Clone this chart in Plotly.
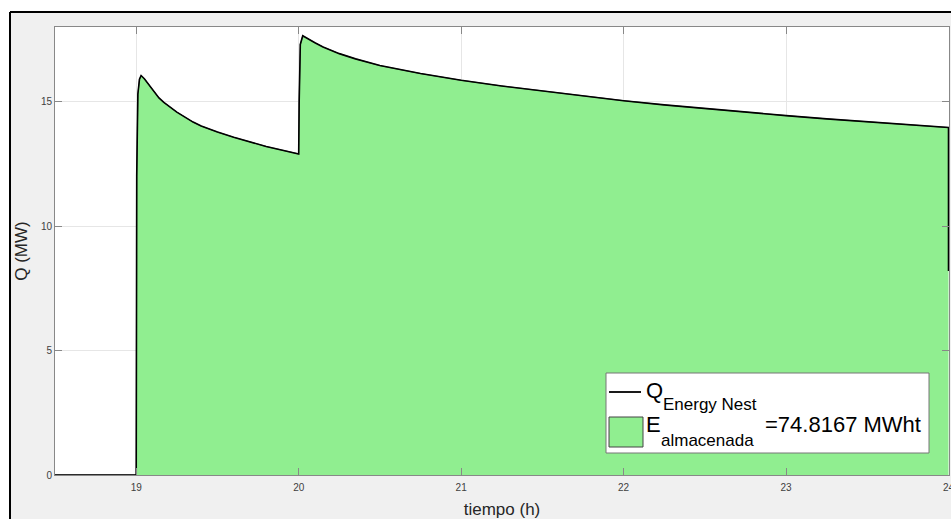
import plotly.graph_objects as go

# time (h)
t = [18.5, 19.0, 19.003, 19.01, 19.02, 19.03, 19.05, 19.075, 19.1, 19.14, 19.17, 19.2,
     19.25, 19.3, 19.35, 19.4, 19.45, 19.5, 19.6, 19.7, 19.8, 19.9, 19.995,
     20.0, 20.003, 20.01, 20.025, 20.05, 20.1, 20.15, 20.2, 20.25, 20.35, 20.5,
     20.75, 21.0, 21.25, 21.5, 21.75, 22.0, 22.25, 22.5, 22.75, 23.0, 23.25, 23.5,
     23.75, 24.0, 24.0]
# Q (MW)
q = [0, 0, 12.0, 15.3, 15.9, 16.05, 15.92, 15.7, 15.5, 15.15, 14.97, 14.81,
     14.58, 14.38, 14.18, 14.02, 13.89, 13.78, 13.57, 13.38, 13.2, 13.05, 12.9,
     12.9, 15.0, 17.3, 17.65, 17.55, 17.37, 17.2, 17.05, 16.93, 16.72, 16.45,
     16.13, 15.86, 15.63, 15.43, 15.23, 15.04, 14.87, 14.72, 14.58, 14.44, 14.31, 14.19,
     14.07, 13.96, 8.2]

x_ticks = [19, 20, 21, 22, 23, 24]
y_ticks = [0, 5, 10, 15]
energy_label = "=74.8167 MWht"

font = "Liberation Sans, Arial, Helvetica, sans-serif"
GREEN = "#90EE90"

# plot area spans abs x 55..949, y 27..475 (body margin removed below)
W, H = 951, 519
ML, MR, MT, MB = 55, 2, 27, 44
PW = W - ML - MR
PH = H - MT - MB
OX, OY = ML, MT


def px(x):
    return (x - OX) / PW


def py(y):
    return 1 - (y - OY) / PH


fig = go.Figure()
fig.add_trace(go.Scatter(
    x=t, y=q, mode="lines", fill="tozeroy",
    fillcolor=GREEN,
    line=dict(color="#333333", width=0.8),
    name="E<sub>almacenada</sub> " + energy_label,
    showlegend=False,
))
fig.add_trace(go.Scatter(
    x=t, y=q, mode="lines",
    line=dict(color="black", width=1.6),
    name="Q<sub>Energy Nest</sub>",
    showlegend=False,
))

shapes = []
# white strips outside the figure frame
shapes.append(dict(type="rect", xref="paper", yref="paper", x0=px(0), x1=px(10),
                   y0=py(600), y1=py(0), fillcolor="white", line=dict(width=0), layer="below"))
shapes.append(dict(type="rect", xref="paper", yref="paper", x0=px(0), x1=px(960),
                   y0=py(12), y1=py(0), fillcolor="white", line=dict(width=0), layer="below"))
# black frame lines
shapes.append(dict(type="line", xref="paper", yref="paper", x0=px(10), x1=px(960),
                   y0=py(12), y1=py(12), line=dict(color="black", width=2)))
shapes.append(dict(type="line", xref="paper", yref="paper", x0=px(10), x1=px(10),
                   y0=py(12), y1=py(600), line=dict(color="black", width=2)))
# legend box
shapes.append(dict(type="rect", xref="paper", yref="paper", x0=px(606), x1=px(929),
                   y0=py(453), y1=py(373), fillcolor="white",
                   line=dict(color="#777777", width=1)))
# legend line symbol
shapes.append(dict(type="line", xref="paper", yref="paper", x0=px(609), x1=px(641),
                   y0=py(392), y1=py(392), line=dict(color="black", width=1.8)))
# legend patch symbol
shapes.append(dict(type="rect", xref="paper", yref="paper", x0=px(609), x1=px(643),
                   y0=py(447), y1=py(417), fillcolor=GREEN,
                   line=dict(color="#444444", width=1)))

annotations = []


def add_text(text, x, y_mid, size):
    annotations.append(dict(
        text=text, xref="paper", yref="paper", x=px(x), y=py(y_mid),
        xanchor="left", yanchor="middle", showarrow=False,
        font=dict(size=size, color="black", family=font), borderpad=0,
    ))


add_text("Q", 645, 390, 22)
add_text("Energy Nest", 662, 404, 17)
add_text("E", 645, 424, 22)
add_text("almacenada", 660, 440, 17)
add_text(energy_label, 764, 424, 22)

fig.update_layout(
    width=W, height=H,
    margin=dict(l=ML, r=MR, t=MT, b=MB, autoexpand=False),
    paper_bgcolor="#f0f0f0",
    plot_bgcolor="white",
    font=dict(family=font, color="#404040", size=10),
    showlegend=False,
    shapes=shapes,
    annotations=annotations,
    xaxis=dict(
        range=[18.5, 24.003], tickvals=x_ticks, ticktext=[str(v) for v in x_ticks],
        ticks="inside", ticklen=7, tickcolor="#888888",
        showline=True, linecolor="#888888", linewidth=1, mirror="ticks",
        showgrid=True, gridcolor="#e6e6e6", gridwidth=1, zeroline=False,
        tickfont=dict(size=10, color="#404040"), ticklabelstandoff=3,
        ticklabeloverflow="allow", automargin=False,
        title=dict(text="tiempo (h)", font=dict(size=17, color="#262626"), standoff=12),
    ),
    yaxis=dict(
        range=[0, 18.0], tickvals=y_ticks, ticktext=[str(v) for v in y_ticks],
        ticks="inside", ticklen=7, tickcolor="#888888",
        showline=True, linecolor="#888888", linewidth=1, mirror="ticks",
        showgrid=True, gridcolor="#e6e6e6", gridwidth=1, zeroline=False,
        tickfont=dict(size=10, color="#404040"), automargin=False,
        title=dict(text="Q (MW)", font=dict(size=17, color="#262626"), standoff=8),
    ),
)

fig.write_html(
    "out.html",
    config={"displayModeBar": False},
    post_script="document.body.style.margin='0';document.body.style.overflow='hidden';",
)
